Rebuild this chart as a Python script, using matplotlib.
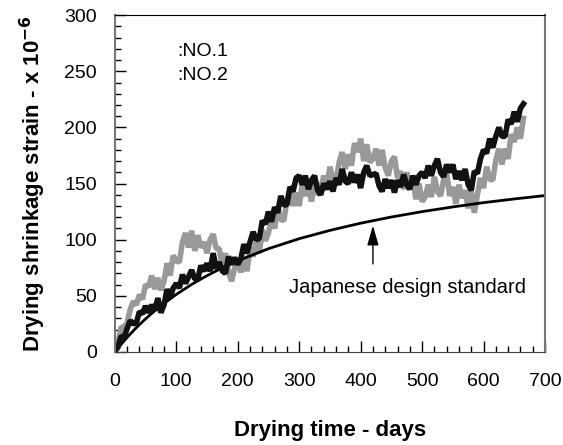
import matplotlib
matplotlib.use("Agg")
import matplotlib.pyplot as plt
from matplotlib.ticker import MultipleLocator

plt.rcParams['font.family'] = ['Liberation Sans', 'DejaVu Sans']

# --- data (every 5 days) ---
days = [0, 5, 10, 15, 20, 25, 30, 35, 40, 45, 50, 55, 60, 65, 70, 75, 80, 85, 90, 95,
        100, 105, 110, 115, 120, 125, 130, 135, 140, 145, 150, 155, 160, 165, 170, 175,
        180, 185, 190, 195, 200, 205, 210, 215, 220, 225, 230, 235, 240, 245, 250, 255,
        260, 265, 270, 275, 280, 285, 290, 295, 300, 305, 310, 315, 320, 325, 330, 335,
        340, 345, 350, 355, 360, 365, 370, 375, 380, 385, 390, 395, 400, 405, 410, 415,
        420, 425, 430, 435, 440, 445, 450, 455, 460, 465, 470, 475, 480, 485, 490, 495,
        500, 505, 510, 515, 520, 525, 530, 535, 540, 545, 550, 555, 560, 565, 570, 575,
        580, 585, 590, 595, 600, 605, 610, 615, 620, 625, 630, 635, 640, 645, 650, 655,
        660, 665]

# NO.1 (grey)
no1 = [2, 7, 22, 22, 26, 38, 45, 42, 51, 47, 60, 58, 68, 56, 66, 55, 63, 79, 68, 86,
       81, 80, 98, 106, 93, 108, 90, 104, 93, 98, 88, 100, 105, 92, 92, 74,
       88, 71, 63, 75, 80, 71, 83, 72, 93, 85, 98, 88, 109, 99, 106, 119,
       110, 129, 118, 117, 135, 145, 130, 142, 130, 149, 139, 148, 134, 152, 140, 145,
       157, 147, 165, 154, 152, 169, 178, 163, 176, 166, 186, 178, 190, 170, 185, 169,
       172, 181, 166, 180, 164, 157, 170, 174, 155, 161, 145, 160, 147, 154, 136, 150,
       134, 138, 149, 138, 156, 143, 139, 153, 159, 139, 147, 132, 149, 137, 144, 128,
       143, 124, 140, 155, 146, 165, 154, 153, 171, 181, 167, 181, 172, 194, 187, 200,
       190, 208]

# NO.2 (black)
no2 = [1, 4, 14, 13, 21, 28, 25, 26, 36, 34, 41, 35, 42, 37, 48, 35, 42, 56, 48, 57,
       61, 57, 69, 61, 67, 73, 65, 65, 77, 72, 79, 72, 88, 74, 80, 72,
       70, 85, 78, 84, 78, 83, 96, 88, 98, 107, 100, 101, 117, 114, 125, 116,
       129, 124, 139, 131, 131, 147, 143, 155, 157, 149, 157, 145, 153, 157, 144, 140,
       150, 145, 152, 143, 155, 149, 163, 152, 150, 160, 151, 158, 146, 160, 166, 157,
       158, 159, 148, 143, 154, 146, 153, 142, 153, 147, 158, 149, 145, 157, 149, 157,
       160, 155, 166, 157, 166, 172, 160, 156, 167, 160, 167, 154, 161, 153, 163, 149,
       144, 161, 159, 172, 180, 177, 190, 182, 192, 200, 192, 192, 207, 203, 214, 205,
       217, 221]

# Japanese design standard
std_days = [0, 5, 10, 20, 30, 40, 50, 60, 75, 100, 125, 150, 175, 200, 250, 300,
            350, 400, 450, 500, 550, 600, 650, 700]
std_vals = [0, 3.4, 6.7, 13, 18.9, 24.4, 29.5, 34.4, 41.2, 51.3, 60.2, 68.0, 75.0,
            81.3, 92.0, 100.9, 108.3, 114.7, 120.2, 125.0, 129.2, 133.0, 136.3, 139.3]

fig = plt.figure(figsize=(5.63, 4.45), dpi=100)
ax = fig.add_axes([0.204, 0.209, 0.764, 0.757])

ax.plot(days, no1, color='#999999', lw=4, solid_joinstyle='bevel')
ax.plot(std_days, std_vals, color='black', lw=2)
ax.plot(days, no2, color='#111111', lw=4, solid_joinstyle='bevel')

ax.annotate('', xy=(420, 115), xytext=(420, 76),
            arrowprops=dict(arrowstyle='-|>,head_length=1.2,head_width=0.35',
                            color='black', lw=1))
ax.text(477, 57, 'Japanese design standard', fontsize=14.5, ha='center', va='center')

ax.text(101, 268, ':NO.1', fontsize=14, va='center')
ax.text(101, 246, ':NO.2', fontsize=14, va='center')

ax.set_xlim(0, 700)
ax.set_ylim(0, 300)
ax.xaxis.set_major_locator(MultipleLocator(100))
ax.xaxis.set_minor_locator(MultipleLocator(20))
ax.yaxis.set_major_locator(MultipleLocator(50))
ax.yaxis.set_minor_locator(MultipleLocator(10))
ax.tick_params(which='both', direction='in', top=False, right=False)
ax.tick_params(which='major', length=8, width=1, labelsize=14)
ax.tick_params(axis='x', which='major', pad=15)
ax.tick_params(axis='y', which='major', pad=13)
ax.tick_params(which='minor', length=4, width=1)

for s in ['left', 'right']:
    ax.spines[s].set_color('#777777')
    ax.spines[s].set_linewidth(1.5)
ax.spines['bottom'].set_color('#444444')

ax.set_xlabel('Drying time - days', fontsize=16, fontweight='bold', labelpad=22)
ax.set_ylabel('Drying shrinkage strain - x 10$^{\\mathbf{-6}}$', fontsize=16,
              fontweight='bold', labelpad=12)

fig.savefig('out.png', dpi=100)
